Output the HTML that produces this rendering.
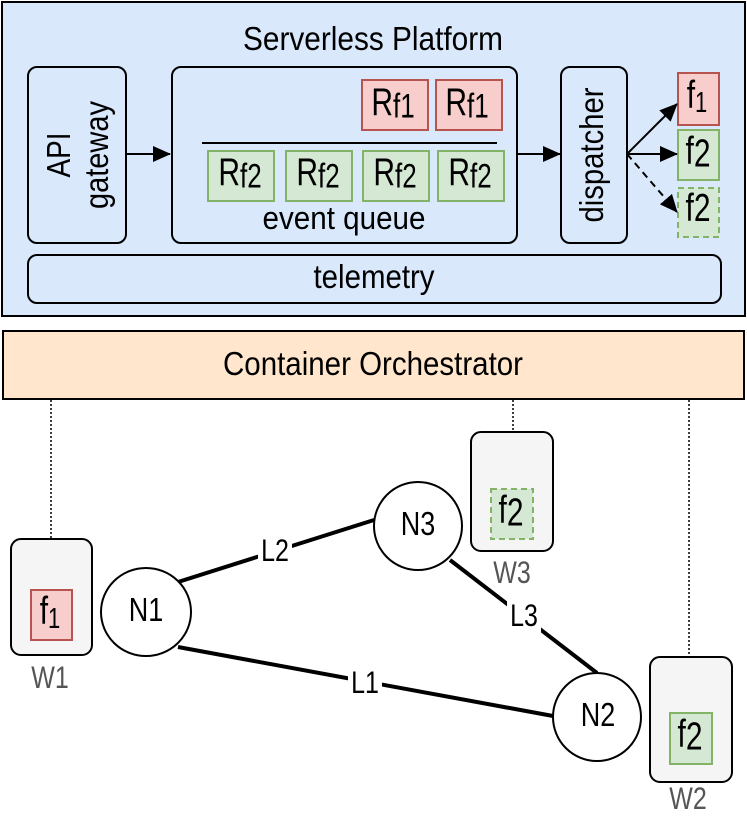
<!DOCTYPE html>
<html><head><style>body{margin:0;background:#fff}svg{display:block}text{font-family:"Liberation Sans",Arial,sans-serif;fill:#000}</style></head><body>
<svg width="747" height="827" viewBox="0 0 747 827" xmlns="http://www.w3.org/2000/svg">
<defs><marker id="b" markerWidth="18" markerHeight="16" refX="17" refY="8" orient="auto" markerUnits="userSpaceOnUse"><path d="M0,0 L18,8 L0,16z" fill="#000"/></marker></defs>
<rect x="2" y="2" width="743" height="314" fill="#dae8fc" stroke="#000" stroke-width="2"/>
<text transform="translate(373,50) scale(1,1.2)" font-size="28" text-anchor="middle" textLength="260" lengthAdjust="spacingAndGlyphs">Serverless Platform</text>
<rect x="28" y="67" width="98" height="176" rx="9" fill="#dae8fc" stroke="#000" stroke-width="2"/>
<text transform="translate(70,155) rotate(-90) scale(1,1.2)" font-size="28" text-anchor="middle" textLength="45" lengthAdjust="spacingAndGlyphs">API</text>
<text transform="translate(108,155) rotate(-90) scale(1,1.2)" font-size="28" text-anchor="middle" textLength="108" lengthAdjust="spacingAndGlyphs">gateway</text>
<rect x="172" y="67" width="345" height="176" rx="9" fill="#dae8fc" stroke="#000" stroke-width="2"/>
<g font-size="30" text-anchor="middle">
<rect x="362" y="80" width="66" height="50" fill="#f8cecc" stroke="#b85450" stroke-width="2"/><text transform="translate(393,115) scale(1,1.3)">R<tspan font-size="26" dy="2">f1</tspan></text>
<rect x="436" y="80" width="66" height="50" fill="#f8cecc" stroke="#b85450" stroke-width="2"/><text transform="translate(467,115) scale(1,1.3)">R<tspan font-size="26" dy="2">f1</tspan></text>
<line x1="202" y1="143" x2="497" y2="143" stroke="#000" stroke-width="2"/>
<rect x="208" y="151" width="66" height="50" fill="#d5e8d4" stroke="#82b366" stroke-width="2"/><text transform="translate(240,185) scale(1,1.3)">R<tspan font-size="26" dy="2">f2</tspan></text>
<rect x="286" y="151" width="66" height="50" fill="#d5e8d4" stroke="#82b366" stroke-width="2"/><text transform="translate(318,185) scale(1,1.3)">R<tspan font-size="26" dy="2">f2</tspan></text>
<rect x="363" y="151" width="66" height="50" fill="#d5e8d4" stroke="#82b366" stroke-width="2"/><text transform="translate(395,185) scale(1,1.3)">R<tspan font-size="26" dy="2">f2</tspan></text>
<rect x="438" y="151" width="66" height="50" fill="#d5e8d4" stroke="#82b366" stroke-width="2"/><text transform="translate(470,185) scale(1,1.3)">R<tspan font-size="26" dy="2">f2</tspan></text>
</g>
<text transform="translate(344,229) scale(1,1.2)" font-size="27" text-anchor="middle" textLength="163" lengthAdjust="spacingAndGlyphs">event queue</text>
<line x1="126" y1="154" x2="170" y2="154" stroke="#000" stroke-width="2" marker-end="url(#b)"/>
<line x1="517" y1="154" x2="560" y2="154" stroke="#000" stroke-width="2" marker-end="url(#b)"/>
<rect x="561" y="67" width="66" height="176" rx="9" fill="#dae8fc" stroke="#000" stroke-width="2"/>
<text transform="translate(603,155) rotate(-90) scale(1,1.2)" font-size="28" text-anchor="middle" textLength="135" lengthAdjust="spacingAndGlyphs">dispatcher</text>
<rect x="678" y="73" width="41" height="52" fill="#f8cecc" stroke="#b85450" stroke-width="2"/><text transform="translate(697,108) scale(1,1.3)" font-size="30" text-anchor="middle">f<tspan font-size="22" dy="3">1</tspan></text>
<rect x="678" y="130" width="41" height="50" fill="#d5e8d4" stroke="#82b366" stroke-width="2"/><text transform="translate(698,164) scale(1,1.3)" font-size="30" text-anchor="middle">f<tspan dy="2">2</tspan></text>
<rect x="678" y="188" width="41" height="49" fill="#d5e8d4" stroke="#82b366" stroke-width="2" stroke-dasharray="6,4"/><text transform="translate(698,221) scale(1,1.3)" font-size="30" text-anchor="middle">f2</text>
<line x1="627" y1="154" x2="677" y2="104" stroke="#000" stroke-width="2" marker-end="url(#b)"/>
<line x1="627" y1="154" x2="677" y2="154" stroke="#000" stroke-width="2" marker-end="url(#b)"/>
<line x1="627" y1="154" x2="677" y2="212" stroke="#000" stroke-width="2" stroke-dasharray="7,5" marker-end="url(#b)"/>
<rect x="28" y="255" width="693" height="48" rx="9" fill="#dae8fc" stroke="#000" stroke-width="2"/>
<text transform="translate(374,288) scale(1,1.2)" font-size="28" text-anchor="middle" textLength="121" lengthAdjust="spacingAndGlyphs">telemetry</text>
<rect x="3" y="331" width="741" height="68" fill="#ffe6cc" stroke="#000" stroke-width="2"/>
<text transform="translate(373,375) scale(1,1.2)" font-size="28" text-anchor="middle" textLength="300" lengthAdjust="spacingAndGlyphs">Container Orchestrator</text>
<g stroke="#000" stroke-width="1.5" stroke-dasharray="2,2"><line x1="51" y1="400" x2="51" y2="539"/><line x1="513" y1="400" x2="513" y2="432"/><line x1="689" y1="400" x2="689" y2="657"/></g>
<g stroke="#000" stroke-width="4"><line x1="178" y1="582" x2="374" y2="520"/><line x1="178" y1="647" x2="553" y2="716"/><line x1="450" y1="560" x2="597" y2="673"/></g>
<g font-size="25" text-anchor="middle">
<rect x="258" y="535" width="34" height="32" fill="#fff"/><text transform="translate(275,561) scale(1,1.25)">L2</text>
<rect x="348" y="667" width="34" height="32" fill="#fff"/><text transform="translate(365,693) scale(1,1.25)">L1</text>
<rect x="507" y="599" width="34" height="34" fill="#fff"/><text transform="translate(524,626) scale(1,1.25)">L3</text>
</g>
<g fill="#fff" stroke="#000" stroke-width="2"><ellipse cx="146" cy="612" rx="45" ry="44"/><ellipse cx="418" cy="526" rx="44" ry="44"/><ellipse cx="597" cy="717" rx="44" ry="44"/></g>
<g font-size="27" text-anchor="middle"><text transform="translate(146,621) scale(1,1.25)">N1</text><text transform="translate(418,535) scale(1,1.25)">N3</text><text transform="translate(598,726) scale(1,1.25)">N2</text></g>
<rect x="11" y="539" width="81" height="116" rx="10" fill="#f5f5f5" stroke="#000" stroke-width="2"/>
<rect x="31" y="590" width="41" height="50" fill="#f8cecc" stroke="#b85450" stroke-width="2"/><text transform="translate(50,624) scale(1,1.3)" font-size="30" text-anchor="middle">f<tspan font-size="22" dy="3">1</tspan></text>
<text transform="translate(50,688) scale(1,1.25)" font-size="25" text-anchor="middle" style="fill:#555">W1</text>
<rect x="471" y="432" width="82" height="119" rx="10" fill="#f5f5f5" stroke="#000" stroke-width="2"/>
<rect x="491" y="489" width="42" height="50" fill="#d5e8d4" stroke="#82b366" stroke-width="2" stroke-dasharray="6,4"/><text transform="translate(511,523) scale(1,1.3)" font-size="30" text-anchor="middle">f<tspan dy="2">2</tspan></text>
<text transform="translate(512,583) scale(1,1.25)" font-size="25" text-anchor="middle" style="fill:#555">W3</text>
<rect x="650" y="657" width="82" height="125" rx="10" fill="#f5f5f5" stroke="#000" stroke-width="2"/>
<rect x="670" y="713" width="42" height="51" fill="#d5e8d4" stroke="#82b366" stroke-width="2"/><text transform="translate(690,747) scale(1,1.3)" font-size="30" text-anchor="middle">f<tspan dy="2">2</tspan></text>
<text transform="translate(688,809) scale(1,1.25)" font-size="25" text-anchor="middle" style="fill:#555">W2</text>
</svg>
</body></html>
